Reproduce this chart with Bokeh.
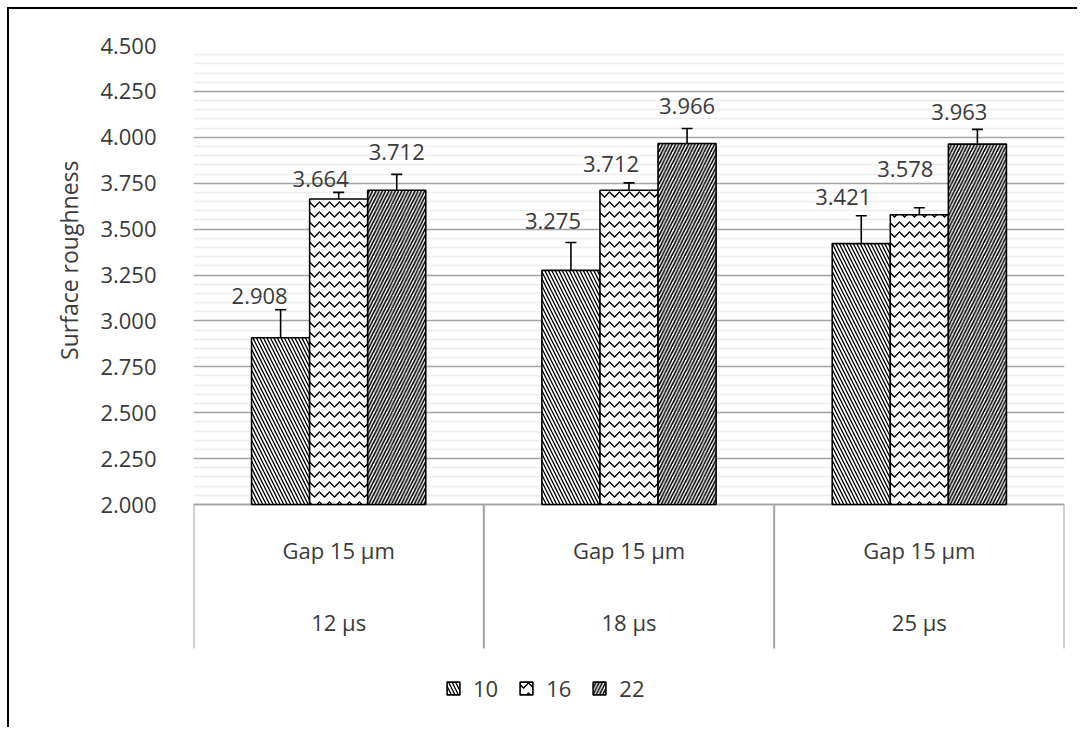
import math
from bokeh.plotting import figure
from bokeh.models import (Range1d, FixedTicker, Title, Legend, LegendItem,
                          ColumnDataSource, Whisker, TeeHead, NumeralTickFormatter)
from bokeh.embed import file_html
from bokeh.resources import INLINE
from bokeh.core.properties import value

# ---------------- data ----------------
group_line1 = ["Gap 15 µm", "Gap 15 µm", "Gap 15 µm"]
group_line2 = ["12 µs", "18 µs", "25 µs"]
series_names = ["10", "16", "22"]
vals_10 = [2.908, 3.275, 3.421]
vals_16 = [3.664, 3.712, 3.578]
vals_22 = [3.712, 3.966, 3.963]
err_10 = [0.153, 0.152, 0.152]
err_16 = [0.036, 0.040, 0.038]
err_22 = [0.086, 0.082, 0.080]
y_ticks = [2.0, 2.25, 2.5, 2.75, 3.0, 3.25, 3.5, 3.75, 4.0, 4.25, 4.5]
y_title = "Surface roughness"

# ---------------- styles / layout ----------------
FONT = "Open Sans"
TXT = "#3a3a3a"
FS = "22px"
# label nudges in screen px (dx, dy above error-bar top)
nudge_dx = [[-21, -18, -18], [-18, -18, -14], [0, 0, -18]]
nudge_dy = [[14, 22, 19], [13, 19, 39], [22, 22, 17]]

W, H = 1070, 720
ox, oy = 9, 9                       # canvas origin on page
f_left, f_right, f_top, f_bottom = 193, 1064, 45, 729   # frame on page
y_hi, y_base = 4.5, 2.0
px_per_unit = (504 - f_top) / (y_hi - y_base)


def py(page_y):
    return y_base + (504 - page_y) / px_per_unit


y_lo = py(f_bottom)

p = figure(width=W, height=H, output_backend="svg", toolbar_location=None,
           x_range=Range1d(0, 3), y_range=Range1d(y_lo, y_hi),
           x_axis_location=None,
           min_border_left=f_left - ox, min_border_right=W - (f_right - ox),
           min_border_top=f_top - oy, min_border_bottom=0)
p.styles = {"border-left": "2px solid #000", "border-top": "2px solid #000",
            "margin-left": "7px", "margin-top": "7px"}
p.outline_line_color = None
p.background_fill_color = "white"
p.border_fill_color = "white"

p.xgrid.visible = False
minor = []
for i in range(len(y_ticks) - 1):
    for k in range(1, 5):
        minor.append(round(y_ticks[i] + k * 0.05, 3))
p.ygrid.ticker = FixedTicker(ticks=y_ticks, minor_ticks=minor)
p.ygrid.grid_line_color = "#a3a3a3"
p.ygrid.grid_line_width = 1.6
p.ygrid.minor_grid_line_color = "#ededed"
p.ygrid.minor_grid_line_width = 1.6

ax = p.yaxis[0]
ax.ticker = FixedTicker(ticks=y_ticks)
ax.formatter = NumeralTickFormatter(format="0.000")
ax.axis_line_color = None
ax.major_tick_line_color = None
ax.minor_tick_line_color = None
ax.major_tick_out = 0
ax.major_label_standoff = 37
ax.major_label_text_font = FONT
ax.major_label_text_font_size = FS
ax.major_label_text_color = TXT

p.add_layout(Title(text=y_title, align="right", offset=115,
                   text_font=FONT, text_font_size="23px", text_font_style="normal",
                   text_color=TXT, standoff=26), "left")

# category box
n = len(group_line2)
box_bottom = py(648)
p.segment(x0=[0], y0=[y_base], x1=[n], y1=[y_base], line_color="#a3a3a3", line_width=1.6)
p.segment(x0=list(range(n + 1)), y0=[y_base] * (n + 1), x1=list(range(n + 1)),
          y1=[box_bottom] * (n + 1), line_color="#a3a3a3", line_width=2)
centers = [i + 0.5 for i in range(n)]
p.text(x=centers, y=[py(549)] * n, text=group_line1, text_align="center",
       text_baseline="middle", text_font=value(FONT), text_font_size=FS, text_color=TXT)
p.text(x=centers, y=[py(621)] * n, text=group_line2, text_align="center",
       text_baseline="middle", text_font=value(FONT), text_font_size=FS, text_color=TXT)

# bars
series_vals = [vals_10, vals_16, vals_22]
series_errs = [err_10, err_16, err_22]
offsets = [-0.2, 0.0, 0.2]
hatches = [dict(hatch_pattern="left_diagonal_line", hatch_scale=7, hatch_weight=1.3),
           dict(hatch_pattern="horizontal_wave", hatch_scale=10, hatch_weight=1.3),
           dict(hatch_pattern="right_diagonal_line", hatch_scale=6.5, hatch_weight=1.6)]
renderers = []
for s in range(3):
    xs = [c + offsets[s] for c in centers]
    src = ColumnDataSource(dict(x=xs, top=series_vals[s],
                                up=[v + e for v, e in zip(series_vals[s], series_errs[s])],
                                lo=[v - e for v, e in zip(series_vals[s], series_errs[s])]))
    r = p.vbar(x="x", top="top", bottom=y_base, width=0.2, source=src,
               fill_color="white", line_color="black", line_width=1.6,
               hatch_color="black", **hatches[s])
    renderers.append(r)
    w = Whisker(base="x", upper="up", lower="lo", source=src, line_color="black",
                line_width=1.6,
                upper_head=TeeHead(size=11, line_color="black", line_width=1.6),
                lower_head=TeeHead(size=11, line_color="black", line_width=1.6))
    p.add_layout(w)
    p.text(x=xs, y=src.data["up"], text=[f"{v:.3f}" for v in series_vals[s]],
           x_offset=nudge_dx[s], y_offset=[-d for d in nudge_dy[s]],
           text_align="center", text_baseline="middle", text_font=value(FONT),
           text_font_size=FS, text_color=TXT)

legend = Legend(items=[LegendItem(label=series_names[i], renderers=[renderers[i]])
                       for i in range(3)],
                orientation="horizontal", location=(252, 26),
                glyph_width=16, glyph_height=16, label_standoff=12, spacing=20,
                padding=0, margin=0, border_line_color=None, background_fill_alpha=0,
                label_text_font=FONT, label_text_font_size=FS, label_text_color=TXT)
p.add_layout(legend)

open("out.html", "w").write(file_html(p, INLINE))
